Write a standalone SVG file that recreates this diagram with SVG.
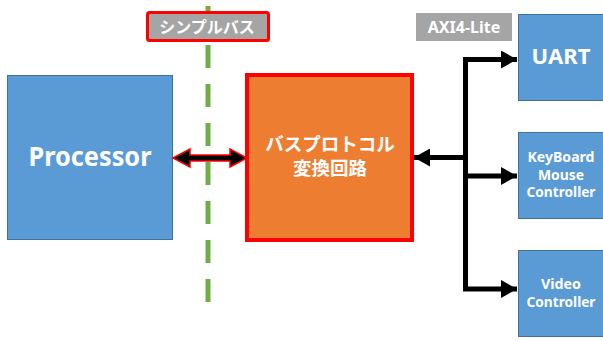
<svg xmlns="http://www.w3.org/2000/svg" width="603" height="341" viewBox="0 0 603 341">
<style>
.blk{fill:#5B9BD5;stroke:#41719C;stroke-width:1}
.t{fill:#fff;font-family:"Noto Sans CJK JP","Noto Sans",sans-serif;font-weight:bold;text-anchor:middle}
.l{fill:#fff;font-family:"Noto Sans","Liberation Sans",sans-serif;font-weight:bold;text-anchor:middle}
.s{font-size:13.5px}
.conn{fill:none;stroke:#000;stroke-width:5}
</style>
<defs>
<marker id="ah" viewBox="0 0 16 18" refX="16" refY="9" markerWidth="16" markerHeight="18" markerUnits="userSpaceOnUse" orient="auto-start-reverse">
<path d="M0,0 L16,9 L0,18 Z" fill="#000"/>
</marker>
</defs>
<rect width="603" height="341" fill="#fff"/>
<line x1="208" y1="6" x2="208" y2="302" stroke="#70AD47" stroke-width="5" stroke-dasharray="23 16"/>
<g id="processor">
<rect class="blk" x="7.5" y="75.5" width="165" height="164"/>
<text class="l" x="90" y="166" font-size="27" textLength="123" lengthAdjust="spacingAndGlyphs">Processor</text>
</g>
<g id="converter">
<rect x="247" y="75" width="165" height="165" fill="#ED7D31" stroke="#FF0000" stroke-width="4"/>
<text class="t" x="330" y="151" font-size="18.5">バスプロトコル</text>
<text class="t" x="330" y="175" font-size="18.5">変換回路</text>
</g>
<g id="uart">
<rect class="blk" x="518.5" y="14.5" width="90" height="86"/>
<text class="l" x="561" y="64" font-size="22">UART</text>
</g>
<g id="keyboard">
<rect class="blk" x="518.5" y="132.5" width="90" height="86"/>
<text class="l s" x="561" y="162" textLength="67" lengthAdjust="spacingAndGlyphs">KeyBoard</text>
<text class="l s" x="561" y="179.5" textLength="46" lengthAdjust="spacingAndGlyphs">Mouse</text>
<text class="l s" x="561" y="197" textLength="69" lengthAdjust="spacingAndGlyphs">Controller</text>
</g>
<g id="video">
<rect class="blk" x="518.5" y="250.5" width="90" height="86"/>
<text class="l s" x="561" y="289" textLength="40" lengthAdjust="spacingAndGlyphs">Video</text>
<text class="l s" x="561" y="307" textLength="69" lengthAdjust="spacingAndGlyphs">Controller</text>
</g>
<g id="label-simple">
<rect x="147.5" y="12.5" width="121" height="28" rx="2" fill="#A5A5A5" stroke="#FF0000" stroke-width="3"/>
<text class="t" x="207" y="33" font-size="16" font-weight="normal">シンプルバス</text>
</g>
<g id="label-axi">
<rect x="416" y="13" width="96" height="28" fill="#A5A5A5"/>
<text class="l" x="464" y="33" font-size="16">AXI4-Lite</text>
</g>
<g id="connectors">
<path d="M173,158 L190,149 L190,155 L230,155 L230,149 L247,158 L230,167 L230,161 L190,161 L190,167 Z" fill="#000" stroke="#FF0000" stroke-width="1.5" stroke-linejoin="miter"/>
<polyline class="conn" points="517,59.5 465.5,59.5 465.5,289 517,289" marker-start="url(#ah)" marker-end="url(#ah)" stroke-linejoin="miter"/>
<line class="conn" x1="465.5" y1="176" x2="517" y2="176" marker-end="url(#ah)"/>
<line class="conn" x1="465.5" y1="157.5" x2="414" y2="157.5" marker-end="url(#ah)"/>
</g>
</svg>
